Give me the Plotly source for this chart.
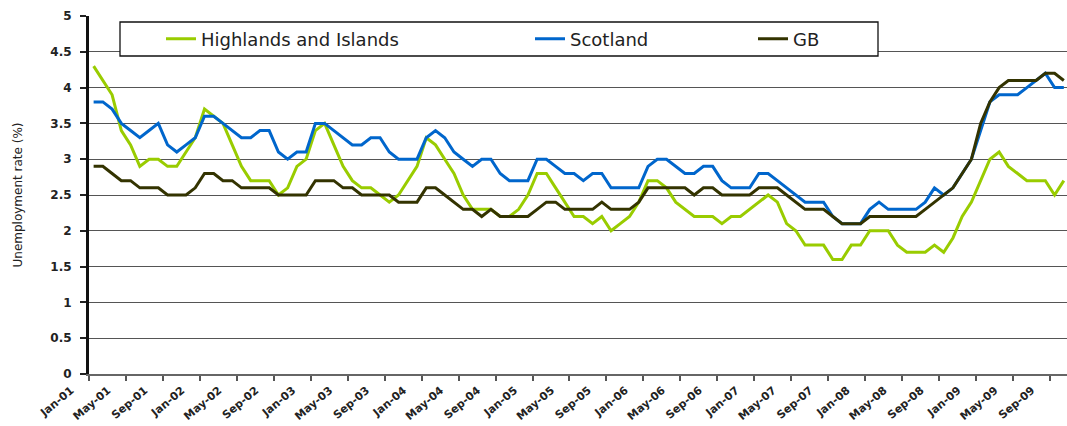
import plotly.graph_objects as go

# monthly unemployment rate (%), Jan-01 .. Oct-09
highlands = [
    4.3, 4.1, 3.9, 3.4, 3.2, 2.9, 3.0, 3.0, 2.9, 2.9, 3.1, 3.3,
    3.7, 3.6, 3.5, 3.2, 2.9, 2.7, 2.7, 2.7, 2.5, 2.6, 2.9, 3.0,
    3.4, 3.5, 3.2, 2.9, 2.7, 2.6, 2.6, 2.5, 2.4, 2.5, 2.7, 2.9,
    3.3, 3.2, 3.0, 2.8, 2.5, 2.3, 2.3, 2.3, 2.2, 2.2, 2.3, 2.5,
    2.8, 2.8, 2.6, 2.4, 2.2, 2.2, 2.1, 2.2, 2.0, 2.1, 2.2, 2.4,
    2.7, 2.7, 2.6, 2.4, 2.3, 2.2, 2.2, 2.2, 2.1, 2.2, 2.2, 2.3,
    2.4, 2.5, 2.4, 2.1, 2.0, 1.8, 1.8, 1.8, 1.6, 1.6, 1.8, 1.8,
    2.0, 2.0, 2.0, 1.8, 1.7, 1.7, 1.7, 1.8, 1.7, 1.9, 2.2, 2.4,
    2.7, 3.0, 3.1, 2.9, 2.8, 2.7, 2.7, 2.7, 2.5, 2.7,
]
scotland = [
    3.8, 3.8, 3.7, 3.5, 3.4, 3.3, 3.4, 3.5, 3.2, 3.1, 3.2, 3.3,
    3.6, 3.6, 3.5, 3.4, 3.3, 3.3, 3.4, 3.4, 3.1, 3.0, 3.1, 3.1,
    3.5, 3.5, 3.4, 3.3, 3.2, 3.2, 3.3, 3.3, 3.1, 3.0, 3.0, 3.0,
    3.3, 3.4, 3.3, 3.1, 3.0, 2.9, 3.0, 3.0, 2.8, 2.7, 2.7, 2.7,
    3.0, 3.0, 2.9, 2.8, 2.8, 2.7, 2.8, 2.8, 2.6, 2.6, 2.6, 2.6,
    2.9, 3.0, 3.0, 2.9, 2.8, 2.8, 2.9, 2.9, 2.7, 2.6, 2.6, 2.6,
    2.8, 2.8, 2.7, 2.6, 2.5, 2.4, 2.4, 2.4, 2.2, 2.1, 2.1, 2.1,
    2.3, 2.4, 2.3, 2.3, 2.3, 2.3, 2.4, 2.6, 2.5, 2.6, 2.8, 3.0,
    3.4, 3.8, 3.9, 3.9, 3.9, 4.0, 4.1, 4.2, 4.0, 4.0,
]
gb = [
    2.9, 2.9, 2.8, 2.7, 2.7, 2.6, 2.6, 2.6, 2.5, 2.5, 2.5, 2.6,
    2.8, 2.8, 2.7, 2.7, 2.6, 2.6, 2.6, 2.6, 2.5, 2.5, 2.5, 2.5,
    2.7, 2.7, 2.7, 2.6, 2.6, 2.5, 2.5, 2.5, 2.5, 2.4, 2.4, 2.4,
    2.6, 2.6, 2.5, 2.4, 2.3, 2.3, 2.2, 2.3, 2.2, 2.2, 2.2, 2.2,
    2.3, 2.4, 2.4, 2.3, 2.3, 2.3, 2.3, 2.4, 2.3, 2.3, 2.3, 2.4,
    2.6, 2.6, 2.6, 2.6, 2.6, 2.5, 2.6, 2.6, 2.5, 2.5, 2.5, 2.5,
    2.6, 2.6, 2.6, 2.5, 2.4, 2.3, 2.3, 2.3, 2.2, 2.1, 2.1, 2.1,
    2.2, 2.2, 2.2, 2.2, 2.2, 2.2, 2.3, 2.4, 2.5, 2.6, 2.8, 3.0,
    3.5, 3.8, 4.0, 4.1, 4.1, 4.1, 4.1, 4.2, 4.2, 4.1,
]
tick_labels = [
    "Jan-01", "May-01", "Sep-01", "Jan-02", "May-02", "Sep-02",
    "Jan-03", "May-03", "Sep-03", "Jan-04", "May-04", "Sep-04",
    "Jan-05", "May-05", "Sep-05", "Jan-06", "May-06", "Sep-06",
    "Jan-07", "May-07", "Sep-07", "Jan-08", "May-08", "Sep-08",
    "Jan-09", "May-09", "Sep-09",
]

months = list(range(len(gb)))
# tick marks sit on the category boundaries, every 4 months
boundaries = [4 * k - 0.5 for k in range(len(tick_labels))]

fig = go.Figure()
fig.add_trace(go.Scatter(x=months, y=highlands, mode="lines", name="Highlands and Islands",
                         line=dict(color="#99CC00", width=3), legend="legend"))
fig.add_trace(go.Scatter(x=months, y=scotland, mode="lines", name="Scotland",
                         line=dict(color="#0066CC", width=3), legend="legend2"))
fig.add_trace(go.Scatter(x=months, y=gb, mode="lines", name="GB",
                         line=dict(color="#333300", width=3), legend="legend3"))

W, H = 1067, 426
L, R, T, B = 89, 0, 16, 52


def px_x(p):
    return (p - L) / (W - L - R)


def px_y(p):
    return (H - B - p) / (H - T - B)


leg_font = dict(family="DejaVu Sans", size=18, color="#222222")
common = dict(orientation="h", yanchor="middle", y=px_y(39), xanchor="left",
              bgcolor="rgba(0,0,0,0)", borderwidth=0, font=leg_font)

fig.update_layout(
    width=W, height=H,
    margin=dict(l=L, r=R, t=T, b=B, autoexpand=False),
    paper_bgcolor="white", plot_bgcolor="white",
    font=dict(family="DejaVu Sans", color="#222222"),
    showlegend=True,
    legend=dict(x=px_x(161), **common),
    legend2=dict(x=px_x(530), **common),
    legend3=dict(x=px_x(753), **common),
    shapes=[dict(type="rect", xref="paper", yref="paper",
                 x0=px_x(120), x1=px_x(878), y0=px_y(56), y1=px_y(22),
                 fillcolor="white", line=dict(color="#111111", width=1.3), layer="above")],
)
fig.update_xaxes(
    range=[-0.5, (W - R - L) / 9.24 - 0.5],
    tickmode="array", tickvals=boundaries, ticktext=tick_labels, tickangle=-40,
    ticks="outside", ticklen=5, tickwidth=1.5, tickcolor="#555555",
    ticklabelshift=-18, ticklabelstandoff=-1,
    tickfont=dict(family="DejaVu Sans", size=11, color="#222222", weight="bold"),
    showgrid=False, zeroline=False,
    showline=True, linecolor="#666666", linewidth=1.5,
)
fig.update_yaxes(
    range=[0, 5], dtick=0.5,
    ticks="outside", ticklen=6, tickwidth=1.5, tickcolor="#222222", ticklabelstandoff=6,
    tickfont=dict(family="DejaVu Sans", size=12, color="#222222", weight="bold"),
    showgrid=True, gridcolor="#555555", gridwidth=1.2, zeroline=False,
    showline=True, linecolor="#111111", linewidth=3,
    title=dict(text="Unemployment rate (%)", standoff=26,
               font=dict(family="DejaVu Sans", size=12, color="#222222")),
)

fig.write_html("out.html", config={"displayModeBar": False},
               post_script="document.body.style.margin='0px';")
